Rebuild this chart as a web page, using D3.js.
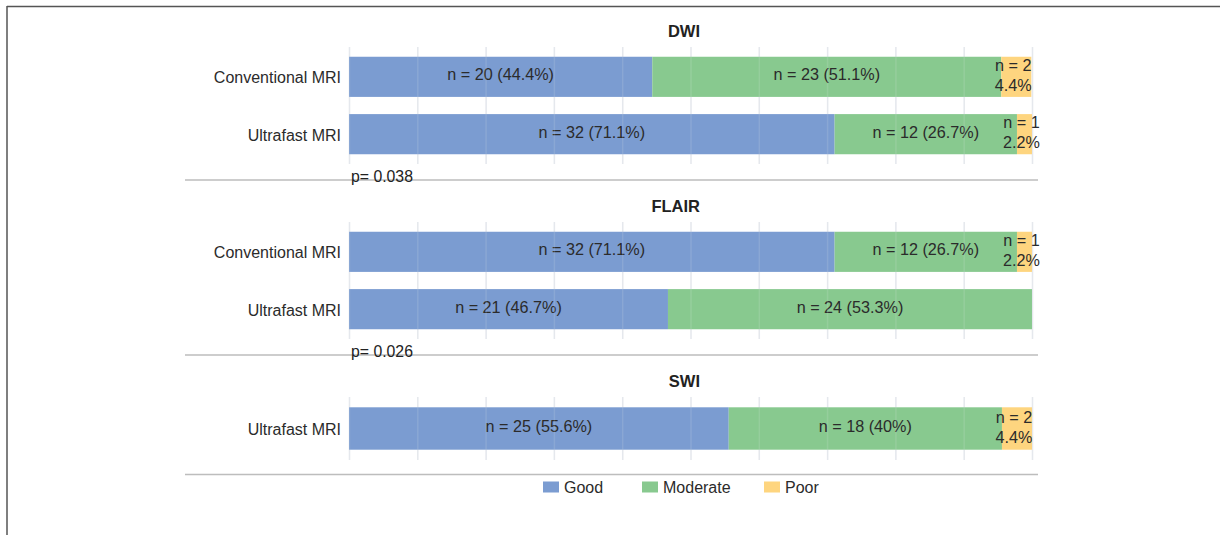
<!DOCTYPE html>
<html>
<head>
<meta charset="utf-8">
<script src="https://cdn.jsdelivr.net/npm/d3@7"></script>
<style>
  html, body { margin: 0; padding: 0; background: #fff; }
  svg { display: block; font-family: "Liberation Sans", Arial, sans-serif; }
</style>
</head>
<body>
<svg id="chart" width="1220" height="535"></svg>
<script>
// Image-quality ratings per sequence and protocol (n = 45 each)
const grades = ["Good", "Moderate", "Poor"];
const gradeColors = ["#7b9cd1", "#88c98f", "#fed57f"];

const panelTitles = ["DWI", "FLAIR", "SWI"];
const panelPValues = ["p= 0.038", "p= 0.026", null];

const dwiRows = ["Conventional MRI", "Ultrafast MRI"];
const dwiCounts = [[20, 23, 2], [32, 12, 1]];
const dwiPercents = [[44.4, 51.1, 4.4], [71.1, 26.7, 2.2]];

const flairRows = ["Conventional MRI", "Ultrafast MRI"];
const flairCounts = [[32, 12, 1], [21, 24, 0]];
const flairPercents = [[71.1, 26.7, 2.2], [46.7, 53.3, 0]];

const swiRows = ["Ultrafast MRI"];
const swiCounts = [[25, 18, 2]];
const swiPercents = [[55.6, 40, 4.4]];

const xTicks = [0, 10, 20, 30, 40, 50, 60, 70, 80, 90, 100];

const panels = [
  { title: panelTitles[0], p: panelPValues[0], rows: dwiRows, counts: dwiCounts, pct: dwiPercents },
  { title: panelTitles[1], p: panelPValues[1], rows: flairRows, counts: flairCounts, pct: flairPercents },
  { title: panelTitles[2], p: panelPValues[2], rows: swiRows, counts: swiCounts, pct: swiPercents }
];

const svg = d3.select("#chart");
const textColor = "#2b2b2b";

// frame: top and left rules
svg.append("line").attr("x1", 7).attr("x2", 1220).attr("y1", 6.5).attr("y2", 6.5)
  .attr("stroke", "#555").attr("stroke-width", 1.5);
svg.append("line").attr("x1", 7).attr("x2", 7).attr("y1", 6).attr("y2", 535)
  .attr("stroke", "#555").attr("stroke-width", 1.5);

const x = d3.scaleLinear().domain([0, 100]).range([349, 1032]);
const color = d3.scaleOrdinal().domain(grades).range(gradeColors);
const pctFmt = d3.format(".1~f");

let titleBaseline = 37;

panels.forEach(panel => {
  const g = svg.append("g");
  const gridTop = titleBaseline + 10;
  const gridH = 54 * panel.rows.length + 9;
  const gridBottom = gridTop + gridH;

  const y = d3.scaleBand().domain(panel.rows)
    .range([gridTop, gridBottom]).paddingInner(0.3).paddingOuter(0.17);

  // title
  g.append("text").attr("x", 700).attr("y", titleBaseline)
    .attr("text-anchor", "end").attr("font-size", 16.5).attr("font-weight", "bold")
    .attr("fill", "#222").text(panel.title);

  // vertical grid behind bars
  const gridAxis = d3.axisBottom(x).tickValues(xTicks).tickSize(-gridH).tickFormat("");
  const gridG = g.append("g").attr("transform", `translate(0,${gridBottom})`).call(gridAxis);
  gridG.select(".domain").remove();
  gridG.selectAll(".tick line").attr("stroke", "#e6e8ee").attr("stroke-width", 1.5);

  // stacked bars
  panel.rows.forEach((row, ri) => {
    const stackData = [Object.fromEntries(grades.map((k, i) => [k, panel.pct[ri][i]]))];
    const series = d3.stack().keys(grades)(stackData);
    const yc = y(row) + y.bandwidth() / 2;

    series.forEach((s, gi) => {
      const d = s[0];
      if (d[1] - d[0] <= 0) return;
      g.append("rect")
        .attr("x", x(d[0])).attr("width", x(d[1]) - x(d[0]))
        .attr("y", y(row)).attr("height", y.bandwidth())
        .attr("fill", color(s.key));

      const n = panel.counts[ri][gi];
      const pct = panel.pct[ri][gi];
      const cx = (x(d[0]) + x(d[1])) / 2;
      if (x(d[1]) - x(d[0]) > 120) {
        g.append("text").attr("x", cx).attr("y", yc + 3.5)
          .attr("text-anchor", "middle").attr("font-size", 16.2).attr("fill", textColor)
          .text(`n = ${n} (${pctFmt(pct)}%)`);
      } else {
        const t = g.append("text").attr("text-anchor", "middle")
          .attr("font-size", 16.2).attr("fill", textColor);
        t.append("tspan").attr("x", cx - 3).attr("y", yc - 6).text(`n = ${n}`);
        t.append("tspan").attr("x", cx - 3).attr("y", yc + 14).text(`${pctFmt(pct)}%`);
      }
    });
  });

  // faint grid over bars
  const overG = g.append("g").attr("transform", `translate(0,${gridBottom})`).call(gridAxis);
  overG.select(".domain").remove();
  overG.selectAll(".tick line").attr("stroke", "#e6e8ee").attr("stroke-width", 1.5)
    .attr("opacity", 0.15);

  // category labels
  const yAxis = d3.axisLeft(y).tickSize(0).tickPadding(8);
  const yG = g.append("g").attr("transform", "translate(349,0)").call(yAxis);
  yG.select(".domain").remove();
  yG.selectAll("text").attr("font-size", 16).attr("fill", textColor)
    .attr("font-family", "Liberation Sans, Arial, sans-serif").attr("dy", "0.4em");

  const sepY = gridBottom + (panel.rows.length > 1 ? 16 : 14.5);
  g.append("line").attr("x1", 185).attr("x2", 1038).attr("y1", sepY).attr("y2", sepY)
    .attr("stroke", "#bdbdbd").attr("stroke-width", 1.5);

  if (panel.p) {
    g.append("text").attr("x", 351).attr("y", gridBottom + 17.5)
      .attr("font-size", 15.8).attr("fill", "#222").text(panel.p);
  }

  panel.sepY = sepY;
  titleBaseline = sepY + 32;
});

// legend
const legendY = panels[panels.length - 1].sepY + 13;
const legendX = [543, 642, 764];
const legend = svg.append("g");
grades.forEach((k, i) => {
  legend.append("rect").attr("x", legendX[i]).attr("y", legendY - 6)
    .attr("width", 16).attr("height", 11).attr("fill", color(k));
  legend.append("text").attr("x", legendX[i] + 21).attr("y", legendY + 5.5)
    .attr("font-size", 16).attr("fill", textColor).text(k);
});
</script>
</body>
</html>
